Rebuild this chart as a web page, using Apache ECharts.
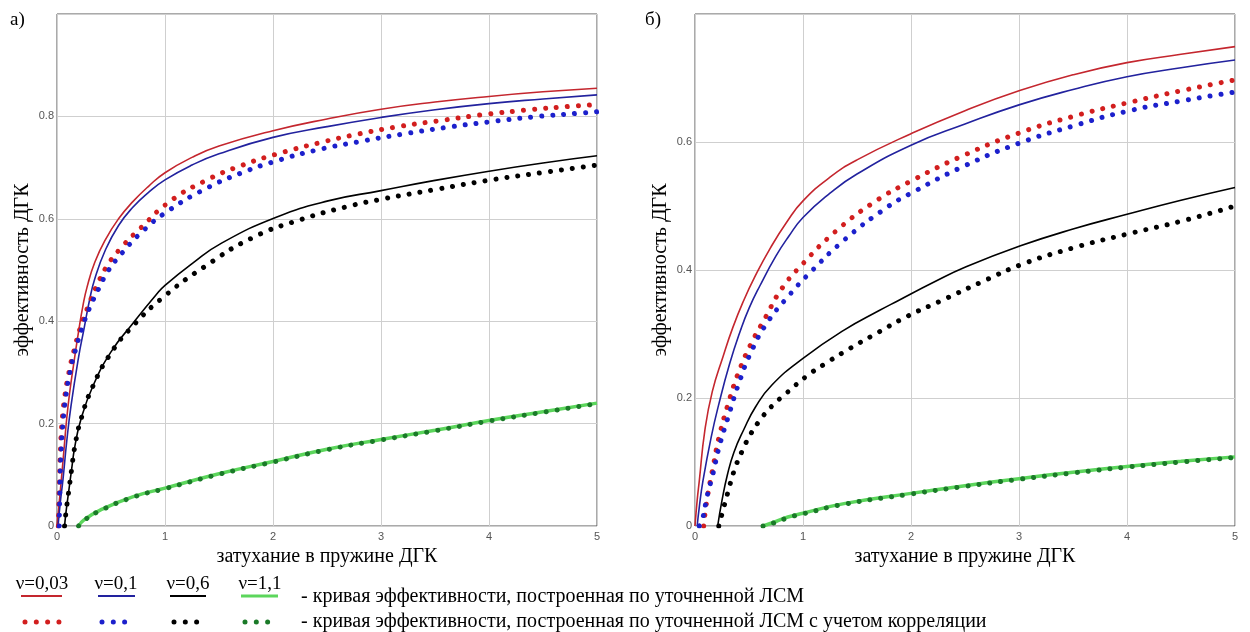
<!DOCTYPE html>
<html>
<head>
<meta charset="utf-8">
<script src="https://cdn.jsdelivr.net/npm/echarts@6/dist/echarts.min.js"></script>
<style>
  html, body { margin: 0; padding: 0; background: #fff; }
  #chart { width: 1250px; height: 632px; }
</style>
</head>
<body>
<div id="chart"></div>
<script>
// ---- Curve data: [damping, efficiency] pairs ----
// Panel а)
const aSolid003 = [[0,0],[0.02,0.045],[0.04,0.09],[0.065,0.15],[0.09,0.21],[0.12,0.265],[0.15,0.31],[0.2,0.38],[0.24,0.43],[0.28,0.468],[0.35,0.515],[0.45,0.56],[0.57,0.6],[0.7,0.633],[0.85,0.664],[1.0,0.69],[1.25,0.72],[1.5,0.742],[2.0,0.772],[2.5,0.795],[3.0,0.814],[3.5,0.828],[4.0,0.839],[4.5,0.848],[5.0,0.855]];
const aSolid01  = [[0.01,0],[0.03,0.045],[0.055,0.09],[0.09,0.165],[0.13,0.235],[0.2,0.33],[0.25,0.385],[0.3,0.44],[0.35,0.483],[0.45,0.54],[0.57,0.587],[0.7,0.622],[0.85,0.652],[1.0,0.676],[1.25,0.705],[1.5,0.727],[2.0,0.759],[2.5,0.78],[3.0,0.798],[3.5,0.813],[4.0,0.825],[4.5,0.834],[5.0,0.842]];
const aSolid06  = [[0.07,0],[0.085,0.03],[0.11,0.07],[0.135,0.11],[0.165,0.155],[0.22,0.207],[0.33,0.272],[0.5,0.34],[0.7,0.395],[0.92,0.452],[1.0,0.47],[1.26,0.514],[1.52,0.552],[2.03,0.603],[2.51,0.635],[3.0,0.655],[3.5,0.675],[4.0,0.693],[4.5,0.709],[5.0,0.723]];
const aSolid11  = [[0.2,0],[0.25,0.012],[0.4,0.031],[0.7,0.057],[1.0,0.074],[1.5,0.102],[2.0,0.126],[2.5,0.15],[3.0,0.169],[3.5,0.187],[4.0,0.206],[4.5,0.223],[5.0,0.24]];
const aDot003   = [[0.012,0],[0.018,0.05],[0.024,0.1],[0.032,0.15],[0.045,0.2],[0.07,0.25],[0.11,0.3],[0.16,0.345],[0.22,0.39],[0.29,0.43],[0.37,0.47],[0.47,0.51],[0.6,0.545],[0.76,0.579],[1.04,0.633],[1.37,0.674],[1.72,0.705],[2.06,0.728],[2.42,0.748],[2.8,0.766],[3.19,0.781],[3.59,0.793],[3.97,0.804],[4.38,0.813],[4.78,0.82],[5.0,0.823]];
const aDot01    = [[0.02,0],[0.025,0.05],[0.03,0.1],[0.04,0.15],[0.055,0.2],[0.08,0.25],[0.12,0.3],[0.17,0.343],[0.23,0.385],[0.3,0.425],[0.39,0.465],[0.47,0.497],[0.57,0.525],[0.79,0.575],[1.04,0.617],[1.37,0.658],[1.7,0.689],[2.03,0.713],[2.4,0.734],[2.78,0.75],[3.19,0.765],[3.59,0.778],[3.99,0.789],[4.41,0.799],[4.82,0.806],[5.0,0.809]];
const aDot06    = [[0.07,0],[0.085,0.03],[0.11,0.07],[0.135,0.11],[0.165,0.155],[0.22,0.207],[0.33,0.272],[0.5,0.338],[0.7,0.39],[0.99,0.448],[1.37,0.507],[1.81,0.563],[2.25,0.598],[2.73,0.626],[3.0,0.638],[3.5,0.657],[4.05,0.677],[4.52,0.691],[5.0,0.705]];
const aDot11    = [[0.2,0],[0.25,0.011],[0.4,0.03],[0.7,0.056],[1.0,0.073],[1.5,0.101],[2.0,0.125],[2.5,0.149],[3.0,0.168],[3.5,0.186],[4.0,0.205],[4.5,0.222],[5.0,0.239]];

// Panel б)
const bSolid003 = [[0,0],[0.02,0.04],[0.04,0.071],[0.09,0.148],[0.16,0.21],[0.26,0.265],[0.35,0.31],[0.45,0.352],[0.55,0.388],[0.7,0.435],[0.85,0.475],[1.0,0.508],[1.25,0.545],[1.5,0.572],[2.0,0.613],[2.5,0.649],[3.0,0.68],[3.5,0.705],[4.0,0.724],[4.5,0.737],[5.0,0.749]];
const bSolid01  = [[0.02,0],[0.04,0.03],[0.074,0.071],[0.15,0.139],[0.22,0.19],[0.32,0.253],[0.42,0.305],[0.5,0.34],[0.6,0.375],[0.75,0.422],[0.87,0.453],[1.0,0.482],[1.25,0.52],[1.5,0.55],[2.0,0.595],[2.5,0.628],[3.0,0.658],[3.5,0.682],[4.0,0.702],[4.5,0.716],[5.0,0.728]];
const bSolid06  = [[0.21,0],[0.25,0.04],[0.3,0.08],[0.36,0.115],[0.45,0.15],[0.56,0.186],[0.71,0.22],[1.0,0.262],[1.38,0.306],[1.71,0.337],[1.88,0.352],[2.2,0.38],[2.51,0.405],[3.0,0.437],[3.5,0.464],[4.0,0.487],[4.5,0.509],[5.0,0.529]];
const bSolid11  = [[0.63,0],[0.75,0.007],[0.86,0.014],[1.0,0.02],[1.38,0.035],[2.0,0.051],[2.5,0.063],[3.0,0.074],[3.5,0.084],[4.0,0.093],[4.5,0.101],[5.0,0.108]];
const bDot003   = [[0.08,0],[0.11,0.04],[0.167,0.092],[0.223,0.139],[0.316,0.196],[0.41,0.243],[0.52,0.285],[0.65,0.325],[0.8,0.37],[1.0,0.41],[1.3,0.46],[1.65,0.505],[2.0,0.539],[2.5,0.58],[3.0,0.614],[3.5,0.64],[4.0,0.661],[4.5,0.68],[5.0,0.697]];
const bDot01    = [[0.04,0],[0.074,0.014],[0.11,0.045],[0.167,0.082],[0.223,0.123],[0.316,0.175],[0.41,0.225],[0.52,0.272],[0.67,0.318],[0.87,0.36],[1.06,0.395],[1.39,0.448],[1.77,0.497],[2.0,0.52],[2.5,0.563],[3.0,0.598],[3.5,0.625],[4.0,0.648],[4.5,0.664],[5.0,0.678]];
const bDot06    = [[0.22,0],[0.26,0.025],[0.3,0.05],[0.37,0.09],[0.45,0.122],[0.52,0.145],[0.6,0.165],[0.71,0.187],[0.85,0.208],[1.04,0.235],[1.19,0.252],[1.41,0.275],[1.67,0.3],[1.97,0.328],[2.28,0.352],[2.65,0.381],[3.03,0.409],[3.51,0.435],[4.0,0.456],[4.52,0.477],[5.0,0.5]];
const bDot11    = [[0.63,0],[0.75,0.006],[0.86,0.013],[1.0,0.019],[1.38,0.034],[2.0,0.05],[2.5,0.062],[3.0,0.073],[3.5,0.083],[4.0,0.092],[4.5,0.1],[5.0,0.107]];

// ---- Labels and ticks ----
const nuLabels   = ['ν=0,03', 'ν=0,1', 'ν=0,6', 'ν=1,1'];
const xTicks     = [0, 1, 2, 3, 4, 5];
const yTicksA    = [0, 0.2, 0.4, 0.6, 0.8];
const yTicksB    = [0, 0.2, 0.4, 0.6];
const panelNames = ['а)', 'б)'];
const xTitle     = 'затухание в пружине ДГК';
const yTitle     = 'эффективность ДГК';
const descSolid  = '- кривая эффективности, построенная по уточненной ЛСМ';
const descDotted = '- кривая эффективности, построенная по уточненной ЛСМ с учетом корреляции';

// ---- Styles ----
const solidColors = ['#c4262e', '#22229e', '#000000', '#5cd65c'];
const solidWidths = [1.6, 1.6, 1.6, 3.5];
const dotColors   = ['#d21e1e', '#1c20cc', '#000000', '#1a7a28'];
const DOT_SIZE = 5, DOT_GAP = 11;
const SERIF = '"Liberation Serif", "Times New Roman", serif';
const SANS  = '"Liberation Sans", Arial, sans-serif';

const grids = [
  { left: 57, top: 14, width: 540, height: 512 },
  { left: 695, top: 14, width: 540, height: 512 }
];

function xAxisFor(i) {
  return {
    gridIndex: i, type: 'value', min: 0, max: 5, interval: 1,
    name: xTitle, nameLocation: 'middle', nameGap: 19,
    nameTextStyle: { fontFamily: SERIF, fontSize: 20, color: '#000' },
    axisLine: { show: false }, axisTick: { show: false },
    axisLabel: {
      margin: 5, fontFamily: SANS, fontSize: 11, color: '#555',
      formatter: v => (xTicks.includes(v) ? String(v) : '')
    },
    splitLine: { show: true, lineStyle: { color: '#cfcfcf', width: 1 } }
  };
}
function yAxisFor(i, max, ticks) {
  return {
    gridIndex: i, type: 'value', min: 0, max: max, interval: 0.2,
    name: yTitle, nameLocation: 'middle', nameGap: 24, nameRotate: 90,
    nameTextStyle: { fontFamily: SERIF, fontSize: 20, color: '#000' },
    axisLine: { show: false }, axisTick: { show: false },
    axisLabel: {
      margin: 3, fontFamily: SANS, fontSize: 11, color: '#555',
      formatter: v => {
        const t = ticks.find(k => Math.abs(k - v) < 1e-9);
        return t === undefined ? '' : String(t);
      }
    },
    splitLine: { show: true, lineStyle: { color: '#cfcfcf', width: 1 } }
  };
}

function solidSeries(data, k, gi) {
  return {
    type: 'line', xAxisIndex: gi, yAxisIndex: gi, data: data,
    showSymbol: false, smooth: 0.5, silent: true,
    lineStyle: { color: solidColors[k], width: solidWidths[k] },
    z: 2
  };
}
function dotSeries(data, k, gi) {
  return {
    type: 'line', xAxisIndex: gi, yAxisIndex: gi, data: data,
    showSymbol: false, smooth: 0.5, silent: true,
    lineStyle: { color: dotColors[k], width: DOT_SIZE, type: [0.01, DOT_GAP], cap: 'round' },
    z: 3
  };
}

const panelA = { solid: [aSolid003, aSolid01, aSolid06, aSolid11], dots: [aDot003, aDot01, aDot06, aDot11] };
const panelB = { solid: [bSolid003, bSolid01, bSolid06, bSolid11], dots: [bDot003, bDot01, bDot06, bDot11] };

const series = [];
[panelA, panelB].forEach((p, gi) => {
  p.solid.forEach((d, k) => series.push(solidSeries(d, k, gi)));
  p.dots.forEach((d, k) => series.push(dotSeries(d, k, gi)));
});

// ---- Legend drawn below the panels ----
const legendCols = [
  { x0: 21, x1: 62, tx: 42 },
  { x0: 98, x1: 135, tx: 116 },
  { x0: 170, x1: 206, tx: 188 },
  { x0: 241, x1: 278, tx: 260 }
];
const graphics = [];
panelNames.forEach((name, i) => {
  graphics.push({
    type: 'text', left: i === 0 ? 10 : 645, top: 11,
    style: { text: name, font: '19px ' + SERIF, fill: '#000' }
  });
});
legendCols.forEach((c, k) => {
  graphics.push({
    type: 'text', x: c.tx, y: 584,
    style: { text: nuLabels[k], font: '19px ' + SERIF, fill: '#000', align: 'center', verticalAlign: 'middle' }
  });
  graphics.push({
    type: 'line', shape: { x1: c.x0, y1: 596, x2: c.x1, y2: 596 },
    style: { stroke: solidColors[k], lineWidth: k === 3 ? 3 : 2 }
  });
  graphics.push({
    type: 'line', shape: { x1: c.x0 + 4, y1: 622, x2: c.x1, y2: 622 },
    style: { stroke: dotColors[k], lineWidth: DOT_SIZE, lineDash: [0.01, 11.3], lineCap: 'round' }
  });
});
graphics.push({
  type: 'text', x: 301, y: 597,
  style: { text: descSolid, font: '20px ' + SERIF, fill: '#000', verticalAlign: 'middle' }
});
graphics.push({
  type: 'text', x: 301, y: 622,
  style: { text: descDotted, font: '20px ' + SERIF, fill: '#000', verticalAlign: 'middle' }
});

const chart = echarts.init(document.getElementById('chart'), null, { renderer: 'canvas' });
chart.setOption({
  animation: false,
  backgroundColor: '#fff',
  grid: grids.map(g => Object.assign({ show: true, borderColor: '#555', borderWidth: 1, backgroundColor: 'transparent' }, g)),
  xAxis: [xAxisFor(0), xAxisFor(1)],
  yAxis: [yAxisFor(0, 1.0, yTicksA), yAxisFor(1, 0.8, yTicksB)],
  series: series,
  graphic: graphics
});
</script>
</body>
</html>
